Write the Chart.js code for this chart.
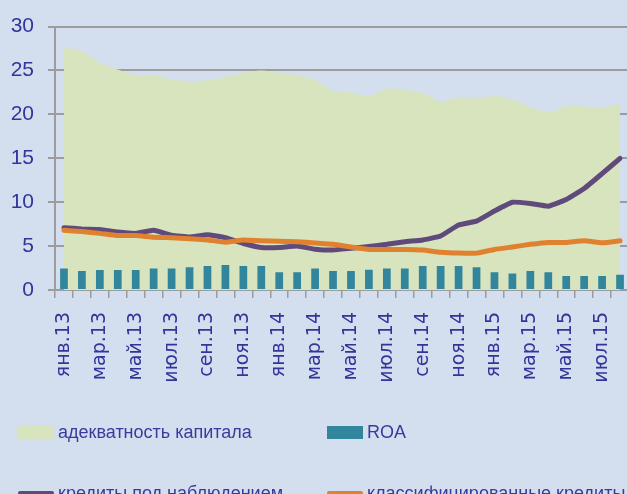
<!DOCTYPE html>
<html>
<head>
<meta charset="utf-8">
<script src="https://cdn.jsdelivr.net/npm/chart.js@4.4.1/dist/chart.umd.min.js"></script>
<style>
  html, body { margin: 0; padding: 0; background: #D3DFEE; overflow: hidden; }
  #wrap { position: relative; width: 630px; height: 494px; }
  #legend { position: absolute; left: 0; top: 0; width: 627px; height: 494px; pointer-events: none; }
  .lg-item { position: absolute; height: 20px; display: flex; align-items: center;
             font: 18px "Liberation Sans", Arial, sans-serif; color: #3A3A9C; white-space: nowrap; }
  .lg-mark { display: inline-block; width: 36px; margin-right: 4px; }
</style>
</head>
<body>
<div id="wrap">
  <canvas id="bankChart" width="630" height="494"></canvas>
  <div id="legend"></div>
</div>
<script>
// ─── data ──────────────────────────────────────────────────────────
var MONTHS = ['янв', 'фев', 'мар', 'апр', 'май', 'июн', 'июл', 'авг', 'сен', 'окт', 'ноя', 'дек'];
var YEARS = ['13', '14', '15'];
var MONTH_COUNT = 32;   // янв.13 … авг.15

var capitalAdequacy = [27.6, 27.2, 25.9, 25.1, 24.5, 24.5, 24.0, 23.8, 23.9, 24.3, 24.7, 25.0,
                       24.7, 24.5, 23.9, 22.7, 22.5, 22.1, 22.9, 22.8, 22.4, 21.5, 21.9, 21.8,
                       22.1, 21.7, 20.8, 20.3, 20.9, 20.9, 20.8, 21.2];
var roa = [2.46, 2.16, 2.27, 2.27, 2.27, 2.46, 2.46, 2.58, 2.73, 2.84, 2.73, 2.73,
           2.01, 2.01, 2.46, 2.16, 2.16, 2.31, 2.46, 2.46, 2.73, 2.73, 2.73, 2.58,
           2.01, 1.89, 2.16, 2.01, 1.59, 1.59, 1.59, 1.74];
var watchLoans = [7.1, 6.95, 6.9, 6.6, 6.45, 6.8, 6.25, 6.05, 6.3, 5.95, 5.3, 4.85,
                  4.85, 5.0, 4.65, 4.55, 4.75, 4.95, 5.2, 5.5, 5.7, 6.15, 7.4, 7.85,
                  9.0, 10.0, 9.85, 9.55, 10.3, 11.55, 13.25, 15.0];
var classifiedLoans = [6.8, 6.65, 6.45, 6.2, 6.2, 6.0, 5.95, 5.85, 5.7, 5.45, 5.7, 5.6,
                       5.55, 5.5, 5.35, 5.2, 4.9, 4.62, 4.62, 4.62, 4.55, 4.3, 4.2, 4.2,
                       4.62, 4.9, 5.2, 5.42, 5.42, 5.6, 5.38, 5.6];
var yTicks = [0, 5, 10, 15, 20, 25, 30];

(function(){
  var canvas = document.getElementById('bankChart');
  if (!canvas || typeof Chart === 'undefined') return;

  var labels = [];
  for (var i = 0; i < MONTH_COUNT; i++) {
    labels.push(MONTHS[i % 12] + '.' + YEARS[Math.floor(i / 12)]);
  }

  var textBlue = '#34349A';
  var gridGray = '#9C9C9C';

  var chart = new Chart(canvas.getContext('2d'), {
    type: 'bar',
    data: {
      labels: labels,
      datasets: [
        {
          type: 'line',
          label: 'адекватность капитала',
          data: capitalAdequacy,
          backgroundColor: '#D7E4BD',
          borderColor: '#D7E4BD',
          borderWidth: 0,
          fill: 'origin',
          pointRadius: 0,
          tension: 0.3,
          order: 4,
          legendKind: 'box'
        },
        {
          label: 'ROA',
          data: roa,
          backgroundColor: '#31859C',
          barPercentage: 0.43,
          categoryPercentage: 1,
          order: 3,
          legendKind: 'box'
        },
        {
          type: 'line',
          label: 'кредиты под наблюдением',
          data: watchLoans,
          borderColor: '#604A7B',
          borderWidth: 5,
          borderJoinStyle: 'round',
          borderCapStyle: 'round',
          fill: false,
          pointRadius: 0,
          tension: 0.12,
          order: 2,
          legendKind: 'line'
        },
        {
          type: 'line',
          label: 'классифицированные кредиты',
          data: classifiedLoans,
          borderColor: '#E0812F',
          borderWidth: 5,
          borderJoinStyle: 'round',
          borderCapStyle: 'round',
          fill: false,
          pointRadius: 0,
          tension: 0.12,
          order: 1,
          legendKind: 'line'
        }
      ]
    },
    options: {
      responsive: false,
      animation: false,
      layout: { padding: { top: 26, right: 1, bottom: 0, left: 0 } },
      plugins: {
        legend: { display: false },   // drawn as HTML below, two fixed columns
        tooltip: { enabled: false }
      },
      scales: {
        x: {
          offset: true,
          grid: {
            offset: true,
            drawOnChartArea: false,
            drawTicks: true,
            tickLength: 8,
            color: gridGray,
            lineWidth: 1.5
          },
          border: { color: gridGray, width: 2 },
          ticks: {
            autoSkip: false,
            maxRotation: 90,
            minRotation: 90,
            padding: 14,
            color: textBlue,
            font: { size: 19, family: '"DejaVu Sans", sans-serif' },
            // every other month gets a label, every month keeps its tick mark
            callback: function(v, idx){ return idx % 2 === 0 ? labels[idx] : ''; }
          },
          afterFit: function(scale){
            // the plot runs right up to (and past) the picture edge, no label padding
            scale.height = 204;
            scale.paddingLeft = 0;
            scale.paddingRight = 0;
          }
        },
        y: {
          min: 0,
          max: 30,
          grid: { color: gridGray, lineWidth: 2, tickLength: 7 },
          border: { color: gridGray, width: 2 },
          afterBuildTicks: function(scale){
            scale.ticks = yTicks.map(function(v){ return { value: v }; });
          },
          ticks: {
            padding: 14,
            color: textBlue,
            font: { size: 21, family: '"Liberation Sans", Arial, sans-serif' }
          },
          afterFit: function(scale){ scale.width = 55; }
        }
      }
    }
  });

  // HTML legend: 2×2 grid, same order as the original
  var slots = [
    { left: 18,  top: 422 },
    { left: 327, top: 422 },
    { left: 18,  top: 483 },
    { left: 327, top: 483 }
  ];
  var holder = document.getElementById('legend');
  chart.data.datasets.forEach(function(ds, k){
    var item = document.createElement('div');
    item.className = 'lg-item';
    item.style.left = slots[k].left + 'px';
    item.style.top = slots[k].top + 'px';
    var mark = document.createElement('span');
    mark.className = 'lg-mark';
    if (ds.legendKind === 'line') {
      mark.style.height = '4px';
      mark.style.borderRadius = '2px';
      mark.style.background = ds.borderColor;
    } else {
      mark.style.height = '13px';
      mark.style.background = ds.backgroundColor;
    }
    var txt = document.createElement('span');
    txt.textContent = ds.label;
    item.appendChild(mark);
    item.appendChild(txt);
    holder.appendChild(item);
  });
})();
</script>
</body>
</html>
